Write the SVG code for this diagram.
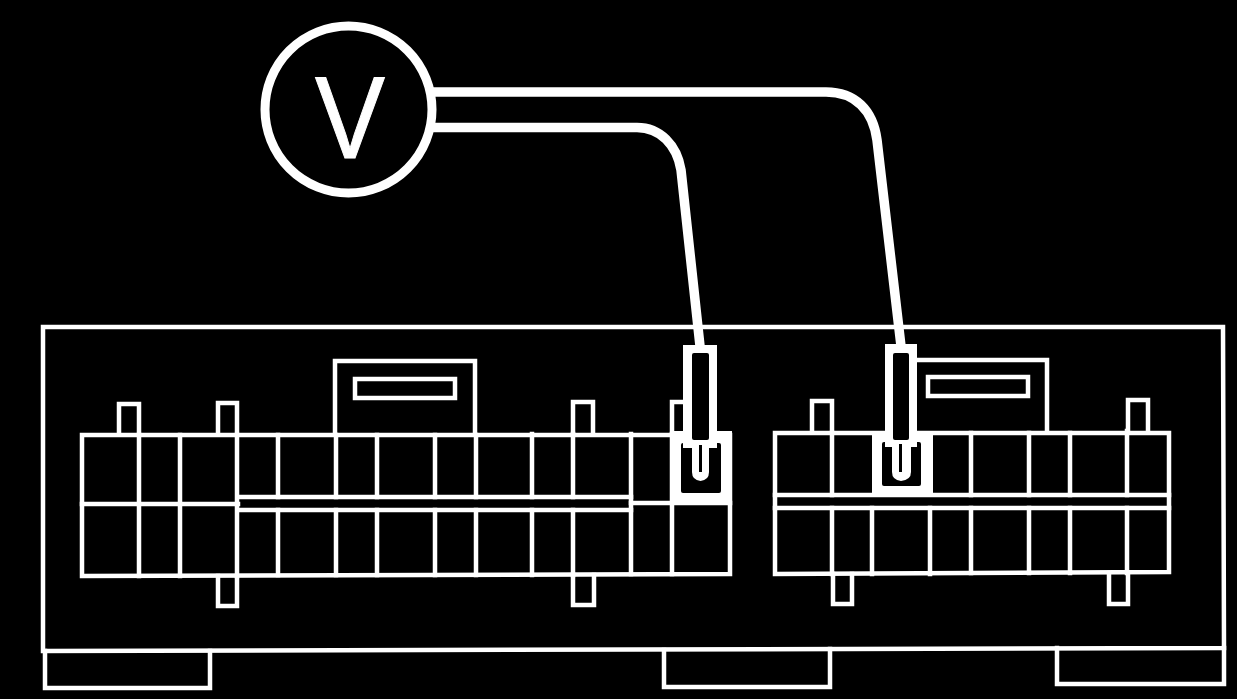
<svg xmlns="http://www.w3.org/2000/svg" width="1237" height="699" viewBox="0 0 1237 699">
<style>
.l{fill:none;stroke:#fff;stroke-width:4.500;stroke-linecap:square}
.w{fill:none;stroke:#fff;stroke-width:9.500}
.f{fill:#fff;stroke:none}
.b{fill:#000;stroke:none}
.t{fill:#fff;stroke:#fff;stroke-width:1;font-family:"Liberation Sans",Arial,sans-serif;font-size:117px}
</style>
<rect width="1237" height="699" fill="#000"/>
<g id="housing">
<path class="l" d="M43 651V327H1223L1224 648L43 651Z"/>
<path class="l" d="M45 651V688H210V651"/>
<path class="l" d="M664 650V687H830V649"/>
<path class="l" d="M1057 648V684H1224V648"/>
</g>
<g id="connector-left">
<path class="l" d="M335 434V361H475V434"/>
<rect class="l" x="355" y="379" width="100" height="19"/>
<path class="l" d="M119 434V404H139V434M218 434V403H237V434M573 433V402H593V433M672 433V402H684M218 576V606H237V576M573 575V605H594V575"/>
<path class="l" d="M82 435H730V574L82 576Z"/>
<path class="l" d="M82 504H238M238 497H631M238 510H631M631 503H730"/>
<path class="l" d="M139 435V576M180 435V576M237 435V576M278 435V497M278 510V575M336 435V497M336 510V575M377 435V497M377 510V575M435 435V497M435 510V575M476 435V497M476 510V575M532 434V497M532 510V575M573 434V497M573 510V575M631 434V574M672 434V574"/>
</g>
<g id="connector-right">
<path class="l" d="M917 360H1047V431"/>
<rect class="l" x="928" y="377" width="100" height="19"/>
<path class="l" d="M812 431V401H832V431M1128 431V400H1148V431M833 574V604H852V574M1109 573V604H1128V573"/>
<path class="l" d="M775 433H1169V572L775 574Z"/>
<path class="l" d="M775 495H1169M775 508H1169"/>
<path class="l" d="M832 433V495M832 508V574M872 508V574M930 508V574M971 433V495M971 508V573M1029 433V495M1029 508V573M1070 433V495M1070 508V573M1127 431V495M1127 508V573"/>
</g>
<g id="voltmeter">
<circle cx="348.500" cy="109.500" r="83.500" fill="none" stroke="#fff" stroke-width="9"/>
<text class="t" x="315" y="158" textLength="70" lengthAdjust="spacingAndGlyphs">V</text>
</g>
<g id="connectors">
<path class="w" d="M433 92H826C855 92 873 110 877 140L901 346"/>
<path class="w" d="M433 127.500H637C660 127.500 677 145 681 170L700 346"/>
</g>
<g id="probe-left">
<rect class="f" x="670" y="431" width="62" height="74"/>
<rect class="b" x="681" y="443" width="40" height="50" rx="2"/>
<rect class="f" x="683" y="345" width="34" height="103"/>
<rect class="b" x="692" y="353" width="17" height="87" rx="2"/>
<path class="f" d="M692 440H709V472Q709 480 700.500 481Q692 480 692 472Z"/>
<rect class="b" x="699" y="445" width="3" height="27"/>
</g>
<g id="probe-right">
<rect class="f" x="872" y="431" width="61" height="65"/>
<rect class="b" x="882" y="442" width="39" height="44" rx="2"/>
<rect class="f" x="885" y="344" width="32" height="103"/>
<rect class="b" x="893" y="353" width="16" height="87" rx="2"/>
<path class="f" d="M892 440H911V472Q911 480 901 481Q892 480 892 472Z"/>
<rect class="b" x="899" y="444" width="3" height="28"/>
</g>
</svg>
